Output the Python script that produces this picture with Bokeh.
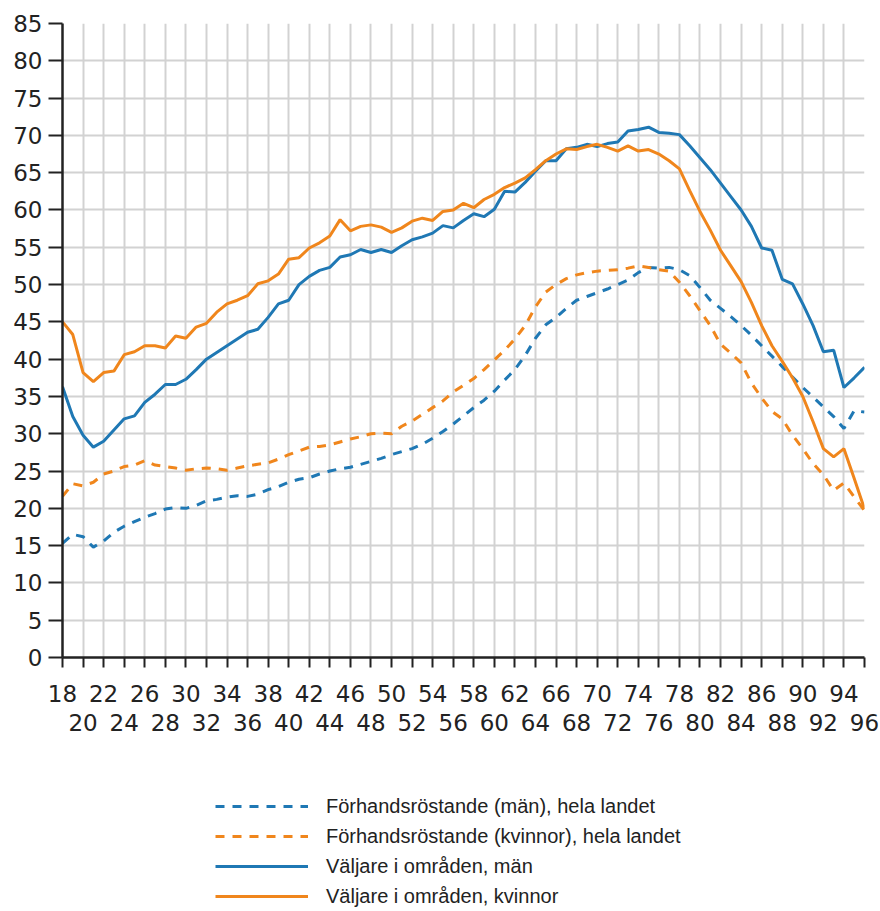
from bokeh.plotting import figure
from bokeh.models import FixedTicker, LinearAxis, Legend, LegendItem, Range1d
from bokeh.layouts import column
from bokeh.embed import file_html
from bokeh.resources import INLINE

ages = list(range(18, 97))

men_advance = [15.3, 16.5, 16.2, 14.8, 15.6, 16.8, 17.6, 18.2, 18.8, 19.3,
               19.9, 20.1, 20.0, 20.4, 21.0, 21.2, 21.5, 21.7, 21.6, 21.9,
               22.5, 22.9, 23.5, 23.9, 24.1, 24.6, 25.0, 25.3, 25.5, 25.9,
               26.3, 26.7, 27.2, 27.6, 28.0, 28.6, 29.4, 30.3, 31.3, 32.4,
               33.5, 34.5, 35.7, 37.2, 38.6, 40.5, 42.8, 44.6, 45.6, 46.8,
               47.9, 48.4, 48.9, 49.4, 50.0, 50.6, 51.6, 52.3, 52.2, 52.3,
               52.0, 51.2, 49.6, 47.9, 46.8, 45.7, 44.5, 43.2, 41.8, 40.4,
               39.0, 37.6, 36.2, 34.9, 33.6, 32.3, 30.7, 33.1, 32.9]

women_advance = [21.6, 23.3, 23.0, 23.5, 24.6, 25.0, 25.6, 25.8, 26.4, 25.8,
                 25.6, 25.4, 25.1, 25.3, 25.4, 25.3, 25.1, 25.4, 25.7, 25.9,
                 26.1, 26.6, 27.2, 27.7, 28.2, 28.3, 28.5, 28.9, 29.3, 29.6,
                 30.0, 30.1, 30.0, 31.0, 31.7, 32.6, 33.5, 34.4, 35.6, 36.5,
                 37.4, 38.6, 39.9, 41.2, 42.7, 44.5, 47.0, 49.0, 50.0, 50.8,
                 51.3, 51.6, 51.8, 51.9, 52.0, 52.2, 52.5, 52.3, 52.0, 51.8,
                 50.3, 48.5, 46.5, 44.5, 42.0, 40.8, 39.5, 36.8, 34.8, 33.0,
                 32.0, 29.8, 28.0, 26.0, 24.5, 22.4, 23.4, 21.5, 19.7]

men_area = [36.3, 32.3, 29.8, 28.2, 29.0, 30.5, 32.0, 32.4, 34.2, 35.3,
            36.6, 36.6, 37.3, 38.6, 40.0, 40.9, 41.8, 42.7, 43.6, 44.0,
            45.6, 47.4, 47.9, 50.0, 51.1, 51.9, 52.3, 53.7, 54.0, 54.7,
            54.3, 54.7, 54.3, 55.2, 56.0, 56.4, 56.9, 57.9, 57.6, 58.6,
            59.5, 59.1, 60.1, 62.5, 62.4, 63.7, 65.2, 66.6, 66.6, 68.2,
            68.4, 68.8, 68.5, 68.9, 69.1, 70.6, 70.8, 71.1, 70.4, 70.3,
            70.1, 68.6, 67.0, 65.4, 63.6, 61.8, 60.0, 57.8, 54.9, 54.6,
            50.7, 50.1, 47.4, 44.5, 41.0, 41.2, 36.2, 37.5, 38.9]

women_area = [45.0, 43.3, 38.2, 37.0, 38.2, 38.4, 40.6, 41.0, 41.8, 41.8,
              41.5, 43.1, 42.8, 44.3, 44.8, 46.3, 47.4, 47.9, 48.5, 50.1,
              50.5, 51.4, 53.4, 53.6, 54.9, 55.6, 56.5, 58.7, 57.2, 57.8,
              58.0, 57.7, 57.0, 57.6, 58.5, 58.9, 58.6, 59.8, 60.0, 60.9,
              60.3, 61.4, 62.1, 63.0, 63.6, 64.3, 65.4, 66.6, 67.5, 68.2,
              68.1, 68.5, 68.8, 68.4, 67.9, 68.6, 67.9, 68.1, 67.5, 66.6,
              65.5, 62.6, 59.8, 57.3, 54.6, 52.5, 50.4, 47.6, 44.5, 41.8,
              39.7, 37.5, 35.0, 31.6, 28.0, 26.9, 28.0, 24.0, 19.9]

series_labels = ["Förhandsröstande (män), hela landet",
                 "Förhandsröstande (kvinnor), hela landet",
                 "Väljare i områden, män",
                 "Väljare i områden, kvinnor"]

y_ticks = list(range(0, 90, 5))
x_ticks = list(range(18, 97, 2))
x_ticks_row1 = list(range(18, 97, 4))
x_ticks_row2 = list(range(20, 97, 4))

BLUE = "#1f78b4"
ORANGE = "#f0861c"
TEXT = "#222222"
GRID = "#d2d2d2"
AXIS = "#222222"
DASH = "9 8"

p = figure(width=880, height=742, output_backend="svg", toolbar_location=None,
           x_range=Range1d(18, 96), y_range=Range1d(0, 85),
           min_border_left=62, min_border_right=16, min_border_top=23,
           min_border_bottom=85)
p.outline_line_color = None

# grid
p.xgrid.ticker = FixedTicker(ticks=x_ticks)
p.ygrid.ticker = FixedTicker(ticks=y_ticks)
for g in (p.xgrid[0], p.ygrid[0]):
    g.grid_line_color = GRID
    g.grid_line_width = 2

# y axis
ya = p.yaxis[0]
ya.ticker = FixedTicker(ticks=y_ticks)
ya.axis_line_color = AXIS
ya.axis_line_width = 2.5
ya.major_tick_line_color = AXIS
ya.major_tick_line_width = 2
ya.major_tick_out = 14
ya.major_tick_in = 0
ya.minor_tick_line_color = None
ya.major_label_standoff = 6
ya.major_label_text_font = "DejaVu Sans"
ya.major_label_text_font_size = "23px"
ya.major_label_text_color = TEXT

# x axis row 1 (with ticks)
xa = p.xaxis[0]
xa.ticker = FixedTicker(ticks=x_ticks)
xa.major_label_overrides = {t: (str(t) if t in x_ticks_row1 else "") for t in x_ticks}
xa.axis_line_color = AXIS
xa.axis_line_width = 2.5
xa.major_tick_line_color = AXIS
xa.major_tick_line_width = 2
xa.major_tick_out = 10
xa.major_tick_in = 0
xa.minor_tick_line_color = None
xa.major_label_standoff = 17
xa.major_label_text_font = "DejaVu Sans"
xa.major_label_text_font_size = "23px"
xa.major_label_text_color = TEXT

# x axis row 2 (labels only)
xa2 = LinearAxis(ticker=FixedTicker(ticks=x_ticks_row2))
xa2.axis_line_color = None
xa2.major_tick_line_color = None
xa2.minor_tick_line_color = None
xa2.major_tick_out = 0
xa2.major_tick_in = 0
xa2.major_label_standoff = 9
xa2.major_label_text_font = "DejaVu Sans"
xa2.major_label_text_font_size = "23px"
xa2.major_label_text_color = TEXT
p.add_layout(xa2, "below")

p.line(ages, men_advance, line_color=BLUE, line_width=3, line_dash=DASH)
p.line(ages, women_advance, line_color=ORANGE, line_width=3, line_dash=DASH)
p.line(ages, men_area, line_color=BLUE, line_width=3)
p.line(ages, women_area, line_color=ORANGE, line_width=3)

# legend figure (frame aligned with the chart's frame by the column layout)
p2 = figure(width=880, height=166, output_backend="svg", toolbar_location=None,
            x_range=Range1d(0, 1), y_range=Range1d(0, 1),
            x_axis_type=None, y_axis_type=None,
            min_border_left=62, min_border_right=16, min_border_top=0,
            min_border_bottom=0)
p2.outline_line_color = None
p2.xgrid.visible = False
p2.ygrid.visible = False

# legend swatches: lines kept outside the visible range
off_x = [-5, -4]
off_y = [-5, -4]
l1 = p2.line(off_x, off_y, line_color=BLUE, line_width=3, line_dash=DASH)
l2 = p2.line(off_x, off_y, line_color=ORANGE, line_width=3, line_dash=DASH)
l3 = p2.line(off_x, off_y, line_color=BLUE, line_width=3)
l4 = p2.line(off_x, off_y, line_color=ORANGE, line_width=3)

legend = Legend(items=[LegendItem(label=series_labels[0], renderers=[l1]),
                       LegendItem(label=series_labels[1], renderers=[l2]),
                       LegendItem(label=series_labels[2], renderers=[l3]),
                       LegendItem(label=series_labels[3], renderers=[l4])],
                location=(153, 0))
legend.border_line_color = None
legend.background_fill_alpha = 0
legend.padding = 0
legend.margin = 0
legend.spacing = 6
legend.glyph_width = 93
legend.glyph_height = 24
legend.label_height = 24
legend.label_standoff = 18
legend.label_text_font = "Liberation Sans"
legend.label_text_font_size = "20px"
legend.label_text_color = TEXT
p2.add_layout(legend)

layout = column(p, p2, spacing=0)
open("out.html", "w").write(file_html(layout, INLINE))
